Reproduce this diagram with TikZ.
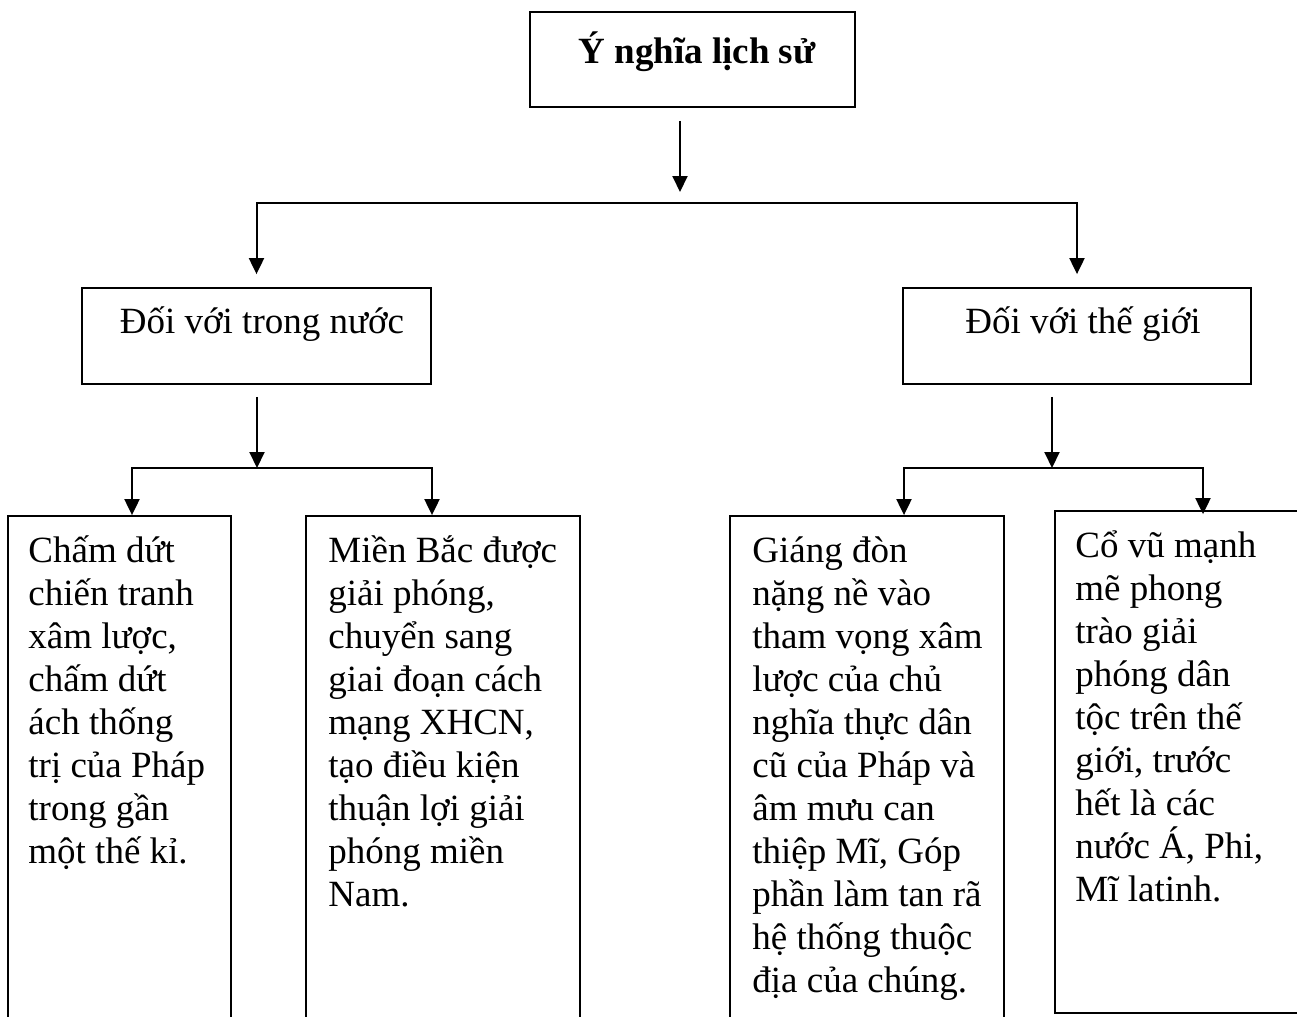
\documentclass[tikz,border=0pt]{standalone}
\usepackage{fontspec}
\setmainfont{Liberation Serif}
\usetikzlibrary{arrows.meta, positioning, calc}

\begin{document}
\begin{tikzpicture}[x=0.5pt, y=-0.5pt,
    box/.style={draw=black, line width=0.9pt, inner sep=0pt},
    txt/.style={font=\fontsize{18.5}{21.5}\selectfont, inner sep=0pt},
    para/.style={txt, anchor=base west, text width=150pt, align=flush left},
    arr/.style={line width=1pt, -{Triangle[length=8pt, width=7.5pt]}},
    dblarr/.style={line width=1pt, {Triangle[length=8pt, width=7.5pt]}-{Triangle[length=8pt, width=7.5pt]}}]
    \useasboundingbox (0,0) rectangle (1297,1017);

    % ===== Top box =====
    \node[box, minimum width=162.5pt, minimum height=47.5pt] (top) at (692.5,59.5) {};
    \node[txt, font=\fontsize{18.5}{21.5}\selectfont\bfseries, anchor=base] (toptxt) at (697,63) {Ý nghĩa lịch sử};

    % ===== Second level =====
    \node[box, minimum width=174.5pt, minimum height=48pt] (lt) at (256.5,336) {};
    \node[txt, anchor=base] (lttxt) at (262,333) {Đối với trong nước};
    \node[box, minimum width=174pt, minimum height=48pt] (rt) at (1077,336) {};
    \node[txt, anchor=base] (rttxt) at (1083,333) {Đối với thế giới};

    % ===== Bottom boxes (run off the page) =====
    \node[box, minimum width=111.5pt, minimum height=262pt] (b1) at (119.5,778) {};
    \node[box, minimum width=137pt, minimum height=262pt] (b2) at (443,778) {};
    \node[box, minimum width=137pt, minimum height=262pt] (b3) at (867,778) {};
    \node[box, minimum width=132.5pt, minimum height=251pt] (b4) at (1187.5,762) {};

    % Box texts
    \node[para] (b1txt) at (28,562) {Chấm dứt\\ chiến tranh\\ xâm lược,\\ chấm dứt\\ ách thống\\ trị của Pháp\\ trong gần\\ một thế kỉ.};
    \node[para] (b2txt) at (328,562) {Miền Bắc được\\ giải phóng,\\ chuyển sang\\ giai đoạn cách\\ mạng XHCN,\\ tạo điều kiện\\ thuận lợi giải\\ phóng miền\\ Nam.};
    \node[para] (b3txt) at (752,562) {Giáng đòn\\ nặng nề vào\\ tham vọng xâm\\ lược của chủ\\ nghĩa thực dân\\ cũ của Pháp và\\ âm mưu can\\ thiệp Mĩ, Góp\\ phần làm tan rã\\ hệ thống thuộc\\ địa của chúng.};
    \node[para] (b4txt) at (1075,557) {Cổ vũ mạnh\\ mẽ phong\\ trào giải\\ phóng dân\\ tộc trên thế\\ giới, trước\\ hết là các\\ nước Á, Phi,\\ Mĩ latinh.};

    % ===== Connectors =====
    \coordinate (j0) at (680,203);
    \coordinate (j1) at (257,468);
    \coordinate (j2) at (1052,468);

    \draw[arr] ([yshift=-6.5pt]top.south -| j0) -- ([yshift=5.5pt]j0);
    \draw[dblarr] ([yshift=6.5pt]lt.north) |- (j0) -| ([yshift=6.5pt]rt.north);

    \draw[arr] ([yshift=-6pt]lt.south -| j1) -- (j1);
    \draw[dblarr] ([xshift=6.25pt]b1.north) |- (j1) -| ([xshift=-5.5pt]b2.north);

    \draw[arr] ([yshift=-6pt]rt.south -| j2) -- (j2);
    \draw[dblarr] ([xshift=18.5pt]b3.north) |- (j2) -| ([xshift=7.75pt,yshift=-2pt]b4.north);
\end{tikzpicture}
\end{document}
